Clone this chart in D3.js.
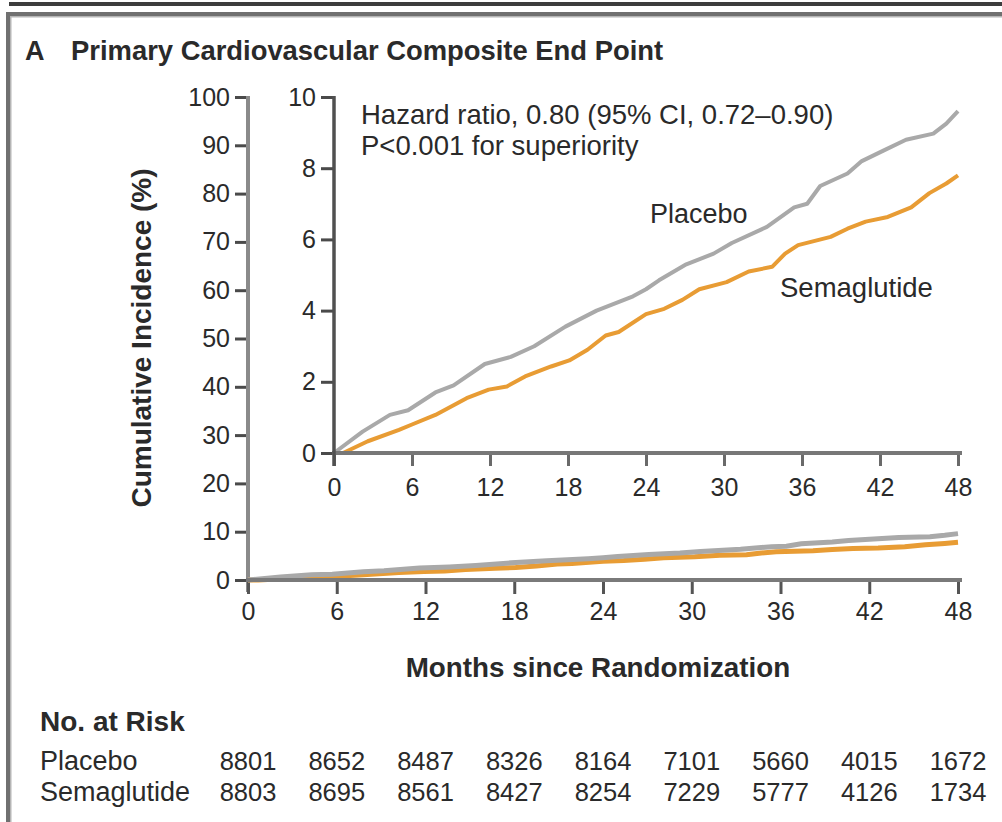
<!DOCTYPE html>
<html>
<head>
<meta charset="utf-8">
<script src="https://cdn.jsdelivr.net/npm/d3@7"></script>
<style>
  body { margin: 0; background: #fff; }
  svg { display: block; }
  text { font-family: "Liberation Sans", Arial, sans-serif; fill: #2a2a2a; }
</style>
</head>
<body>
<svg id="chart" width="1002" height="822"></svg>
<script>
// months since randomization
const placeboMonths = [0, 2.2, 4.3, 5.7, 7.8, 9.2, 11.6, 13.6, 15.4, 17.8, 20.2, 23, 24, 25, 27.1, 29.2, 30.6, 33.3, 35.4, 36.4, 37.4, 39.5, 40.6, 42.3, 44, 46.1, 47.1, 48];
const placeboValues = [0, 0.6, 1.07, 1.2, 1.7, 1.9, 2.5, 2.7, 3.0, 3.55, 4.0, 4.4, 4.6, 4.85, 5.3, 5.6, 5.9, 6.35, 6.9, 7.0, 7.5, 7.85, 8.2, 8.5, 8.8, 8.97, 9.25, 9.6];

const semaMonths = [0, 0.7, 2.6, 5, 6, 7.8, 10.2, 11.9, 13.3, 14.7, 16.7, 18.1, 19.5, 20.9, 21.9, 24, 25.4, 26.8, 28.1, 30.2, 31.9, 33.7, 34.7, 35.7, 38.2, 39.5, 40.9, 42.6, 44.4, 45.8, 47.1, 48];
const semaValues = [0, 0, 0.33, 0.65, 0.8, 1.07, 1.54, 1.78, 1.87, 2.15, 2.43, 2.6, 2.9, 3.3, 3.4, 3.9, 4.05, 4.3, 4.6, 4.8, 5.1, 5.23, 5.6, 5.84, 6.07, 6.3, 6.5, 6.63, 6.9, 7.3, 7.57, 7.8];

const monthTicks = [0, 6, 12, 18, 24, 30, 36, 42, 48];
const mainYTicks = [0, 10, 20, 30, 40, 50, 60, 70, 80, 90, 100];
const insetYTicks = [0, 2, 4, 6, 8, 10];

const riskGroups = ["Placebo", "Semaglutide"];
const riskPlacebo = [8801, 8652, 8487, 8326, 8164, 7101, 5660, 4015, 1672];
const riskSema = [8803, 8695, 8561, 8427, 8254, 7229, 5777, 4126, 1734];

const placeboColor = "#a9a9a9";
const semaColor = "#e89c34";

const svg = d3.select("#chart");
svg.append("rect").attr("width", 1002).attr("height", 822).attr("fill", "#fff");

// frame lines
svg.append("rect").attr("x", 9).attr("y", 2).attr("width", 993).attr("height", 4).attr("fill", "#3d3d3d");
svg.append("rect").attr("x", 6).attr("y", 12).attr("width", 996).attr("height", 4).attr("fill", "#707070");
svg.append("rect").attr("x", 10).attr("y", 16).attr("width", 992).attr("height", 1.5).attr("fill", "#b5b5b5");
svg.append("rect").attr("x", 6).attr("y", 12).attr("width", 4).attr("height", 810).attr("fill", "#707070");
svg.append("rect").attr("x", 10).attr("y", 16).attr("width", 1.5).attr("height", 806).attr("fill", "#b5b5b5");

// title
svg.append("text").attr("x", 25).attr("y", 60)
    .style("font-size", "27px").style("font-weight", "bold").text("A");
svg.append("text").attr("x", 71).attr("y", 60)
    .style("font-size", "27.4px").style("font-weight", "bold")
    .text("Primary Cardiovascular Composite End Point");

// scales
const xMain = d3.scaleLinear().domain([0, 48]).range([248, 958]);
const yMain = d3.scaleLinear().domain([0, 100]).range([580, 97]);
const xInset = d3.scaleLinear().domain([0, 48]).range([334, 958]);
const yInset = d3.scaleLinear().domain([0, 10]).range([453, 97]);

function styleAxis(g) {
    g.select(".domain").remove();
    g.selectAll(".tick line").attr("stroke", "#4a4a4a").attr("stroke-width", 3);
    g.selectAll(".tick text").style("font-size", "25px").attr("fill", "#333")
        .style("font-family", "'Liberation Sans', Arial, sans-serif");
}

// main axes
const gMainY = svg.append("g").attr("transform", "translate(248,0)")
    .call(d3.axisLeft(yMain).tickValues(mainYTicks).tickSize(13).tickPadding(5));
styleAxis(gMainY);
svg.append("line").attr("x1", 248).attr("x2", 248).attr("y1", 96).attr("y2", 592)
    .attr("stroke", "#8a8a8a").attr("stroke-width", 4);

const gMainX = svg.append("g").attr("transform", "translate(0,580)")
    .call(d3.axisBottom(xMain).tickValues(monthTicks).tickSize(14).tickPadding(8));
styleAxis(gMainX);
gMainX.selectAll(".tick line").attr("stroke", "#555");

// main curves
const lineMain = d3.line().x(d => xMain(d[0])).y(d => yMain(d[1]));
svg.append("path").datum(d3.zip(semaMonths, semaValues))
    .attr("d", lineMain).attr("fill", "none").attr("stroke", semaColor).attr("stroke-width", 5);
svg.append("path").datum(d3.zip(placeboMonths, placeboValues))
    .attr("d", lineMain).attr("fill", "none").attr("stroke", placeboColor).attr("stroke-width", 5);

svg.append("line").attr("x1", 246).attr("x2", 962).attr("y1", 580).attr("y2", 580)
    .attr("stroke", "#7a7a7a").attr("stroke-width", 4);

// inset axes
const gInY = svg.append("g").attr("transform", "translate(334,0)")
    .call(d3.axisLeft(yInset).tickValues(insetYTicks).tickSize(13).tickPadding(5));
styleAxis(gInY);

const gInX = svg.append("g").attr("transform", "translate(0,453)")
    .call(d3.axisBottom(xInset).tickValues(monthTicks).tickSize(13).tickPadding(12));
styleAxis(gInX);
gInX.selectAll(".tick line").attr("stroke", "#6a6a6a");

// inset curves
const lineInset = d3.line().x(d => xInset(d[0])).y(d => yInset(d[1]));
svg.append("path").datum(d3.zip(semaMonths, semaValues))
    .attr("d", lineInset).attr("fill", "none").attr("stroke", semaColor).attr("stroke-width", 4)
    .attr("stroke-linejoin", "round");
svg.append("path").datum(d3.zip(placeboMonths, placeboValues))
    .attr("d", lineInset).attr("fill", "none").attr("stroke", placeboColor).attr("stroke-width", 4)
    .attr("stroke-linejoin", "round");

svg.append("line").attr("x1", 332).attr("x2", 962).attr("y1", 453).attr("y2", 453)
    .attr("stroke", "#777").attr("stroke-width", 4);
svg.append("line").attr("x1", 334).attr("x2", 334).attr("y1", 96).attr("y2", 466)
    .attr("stroke", "#505050").attr("stroke-width", 3.5);

// inset annotations
svg.append("text").attr("x", 361).attr("y", 124).style("font-size", "27.5px")
    .text("Hazard ratio, 0.80 (95% CI, 0.72\u20130.90)");
svg.append("text").attr("x", 361).attr("y", 155).style("font-size", "27.5px")
    .text("P<0.001 for superiority");
svg.append("text").attr("x", 650).attr("y", 223).style("font-size", "27px").text("Placebo");
svg.append("text").attr("x", 780).attr("y", 297).style("font-size", "27.5px").text("Semaglutide");

// axis titles
svg.append("text").attr("transform", "translate(151,338) rotate(-90)")
    .attr("text-anchor", "middle").style("font-size", "28px").style("font-weight", "bold")
    .text("Cumulative Incidence (%)");
svg.append("text").attr("x", 598).attr("y", 677).attr("text-anchor", "middle")
    .style("font-size", "27.8px").style("font-weight", "bold")
    .text("Months since Randomization");

// number at risk table
svg.append("text").attr("x", 40).attr("y", 731).style("font-size", "28px").style("font-weight", "bold")
    .text("No. at Risk");
const riskRows = [riskPlacebo, riskSema];
riskRows.forEach((row, i) => {
    const y = 770 + i * 31;
    svg.append("text").attr("x", 40).attr("y", y).style("font-size", "27px").text(riskGroups[i]);
    svg.append("g").selectAll("text").data(row).join("text")
        .attr("x", (d, j) => xMain(monthTicks[j]))
        .attr("y", y)
        .attr("text-anchor", "middle")
        .style("font-size", "25.5px")
        .text(d => d);
});
</script>
</body>
</html>
